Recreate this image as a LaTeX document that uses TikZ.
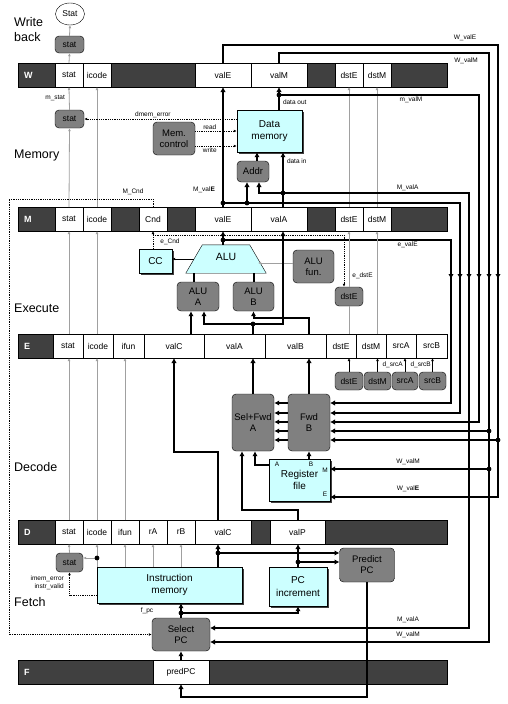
\documentclass[tikz,border=0pt]{standalone}
\usepackage{fontspec}
\setmainfont{Liberation Sans}
\usetikzlibrary{arrows.meta,shapes.geometric,shadows}
\definecolor{regdark}{HTML}{404040}
\definecolor{boxgray}{HTML}{808080}
\definecolor{hwcyan}{HTML}{CCFFFF}
\definecolor{sigray}{HTML}{A0A0A0}
\tikzset{
  reg/.style={draw, fill=regdark, minimum width=429, minimum height=24, inner sep=0pt, outer sep=0pt},
  rname/.style={anchor=west, xshift=6pt, inner sep=0pt, text=white, font=\bfseries\fontsize{9}{10}\selectfont},
  fld/.style={draw, fill=white, minimum height=24, inner sep=0pt, outer sep=0pt, font=\fontsize{8.5}{9}\selectfont},
  gbox/.style={draw, fill=boxgray, rounded corners=4pt, inner sep=0pt, align=center, font=\fontsize{9.5}{11}\selectfont},
  small/.style={font=\fontsize{8.5}{9}\selectfont},
  cbox/.style={draw, fill=hwcyan, inner sep=0pt, align=center, font=\fontsize{10}{12.5}\selectfont,
    general shadow={fill=black!75, shadow xshift=2pt, shadow yshift=-2pt}},
  stage/.style={anchor=west, align=left, inner sep=0pt, font=\fontsize{12.5}{15}\selectfont},
  sig/.style={inner sep=1pt, font=\fontsize{6.5}{8}\selectfont},
  bus/.style={line width=2pt, >={Latex[length=5pt,width=5.4pt]}},
  ctl/.style={draw=sigray, line width=.8pt, >={Latex[length=3pt,width=2.8pt]}},
  ctlk/.style={line width=.6pt, >={Latex[length=3pt,width=2.8pt]}},
  dotln/.style={densely dotted, line width=.8pt, >={Latex[length=3pt,width=2.8pt]}}
}
\begin{document}
\begin{tikzpicture}[x=1pt,y=-1pt]
\path[use as bounding box, fill=white] (0,0) rectangle (507,704);

\node[stage] (sWB) at (14,29.5) {Write\\back};
\node[stage] (sMem) at (14,155) {Memory};
\node[stage] (sEx) at (14,308) {Execute};
\node[stage] (sDec) at (14,467) {Decode};
\node[stage] (sFet) at (14,602) {Fetch};

\foreach \n/\y in {W/75,M/219,E/346,D/532,F/672}
  \node[reg, label={[rname]west:\n}] (\n) at (232.5,\y) {};
\foreach \a/\b/\t in {55/83/stat,83/111/icode,195/251/valE,251/307/valM,335/363/dstE,363/391/dstM}
  \node[fld, minimum width=\b-\a] (W\t) at ({(\a+\b)/2},75) {\t};
\foreach \a/\b/\t in {55/83/stat,83/111/icode,139/167/Cnd,195/251/valE,251/307/valA,335/363/dstE,363/391/dstM}
  \node[fld, minimum width=\b-\a] (M\t) at ({(\a+\b)/2},219) {\t};
\foreach \a/\b/\t in {53/83/stat,83/113/icode,113/144/ifun,144/204/valC,204/265/valA,265/326/valB,326/356/dstE,356/386/dstM,386/416/srcA,416/447/srcB}
  \node[fld, minimum width=\b-\a] (E\t) at ({(\a+\b)/2},346) {\t};
\foreach \a/\b/\t in {55/83/stat,83/111/icode,111/139/ifun,139/167/rA,167/195/rB,195/251/valC,270/325/valP}
  \node[fld, minimum width=\b-\a] (D\t) at ({(\a+\b)/2},532) {\t};
\node[fld, minimum width=56] (FpredPC) at (181,672) {predPC};

\node[draw, ellipse, fill=white, minimum width=29, minimum height=22, inner sep=0pt, small] (Stat) at (70,14) {Stat};
\node[gbox, small, minimum width=29, minimum height=17] (statW) at (69.5,44.5) {stat};
\node[gbox, small, minimum width=29, minimum height=18] (statM) at (69.5,119) {stat};
\node[gbox, minimum width=42, minimum height=33] (MemCtrl) at (174,138.5) {Mem.\\control};
\node[cbox, minimum width=65, minimum height=42] (DMem) at (269.5,131) {Data\\memory};
\node[gbox, minimum width=32, minimum height=21] (Addr) at (253,171.5) {Addr};
\node[cbox, minimum width=33, minimum height=24] (CC) at (155.5,261) {CC};
\node[minimum width=80, minimum height=28, inner sep=0pt] (ALU) at (226,259) {};
\filldraw[fill=hwcyan] ([xshift=16.5pt]ALU.north west) -- ([xshift=-16.5pt]ALU.north east)
  -- (ALU.south east) -- (ALU.south west) -- cycle;
\node[font=\fontsize{10.5}{12}\selectfont, inner sep=0pt] (ALUt) at ([yshift=2pt]ALU.center) {ALU};
\node[gbox, minimum width=42, minimum height=29] (ALUA) at (198,296.5) {ALU\\A};
\node[gbox, minimum width=41, minimum height=29] (ALUB) at (253.5,296.5) {ALU\\B};
\node[gbox, minimum width=41, minimum height=33] (ALUfun) at (313.5,266.5) {ALU\\fun.};
\node[gbox, small, minimum width=28, minimum height=19] (dstX) at (349,296.5) {dstE};
\foreach \n/\a/\b in {dstE/335/363,dstM/364/391,srcA/392/418,srcB/419/446}
  \node[gbox, small, minimum width=\b-\a, minimum height=18] (d\n) at ({(\a+\b)/2},381) {\n};
\node[gbox, minimum width=42, minimum height=57] (SelA) at (253,422.5) {Sel+Fwd\\A};
\node[gbox, minimum width=42, minimum height=57] (FwdB) at (309,422.5) {Fwd\\B};
\node[cbox, minimum width=61, minimum height=42] (RF) at (299.5,480) {Register\\file};
\node[sig] (pA) at (277,464) {A};
\node[sig] (pB) at (311,464) {B};
\node[sig] (pM) at (325,470) {M};
\node[sig] (pE) at (325,494) {E};
\node[gbox, small, minimum width=27, minimum height=19] (statF) at (69.5,562.5) {stat};
\node[cbox, minimum width=145, minimum height=36] (IMem) at (169.5,585) {Instruction\\memory};
\node[cbox, minimum width=58, minimum height=39] (PCinc) at (298,586.5) {PC\\increment};
\node[gbox, minimum width=55, minimum height=34] (PredPC) at (367,565) {Predict\\PC};
\node[gbox, minimum width=58, minimum height=33] (SelPC) at (181,634.5) {Select\\PC};

\coordinate (WEc) at (498,45);
\coordinate (WMc) at (489,53);
\coordinate (mMc) at (479,95);
\coordinate (ad1) at (247,182);
\coordinate (ad2) at (259,182);
\coordinate (MAc) at (469,193);
\coordinate (din) at (283,193);
\coordinate (MEc) at (460,203);
\coordinate (eEc) at (451,240);
\coordinate (mc1) at (9,199);
\coordinate (ec) at (153,235);
\coordinate (aluL) at (194,259);
\coordinate (aluR) at (258,263);
\coordinate (vA) at (253,324);
\coordinate (vB) at (309,318);
\foreach \i/\y in {1/403,2/413,3/422,4/431,5/440} \coordinate (f\i) at (330,\y);
\coordinate (vC) at (218,452);
\coordinate (rfA) at (269,465);
\coordinate (rfM) at (330,469);
\coordinate (rfE) at (330,497);
\coordinate (vP) at (242,510);
\coordinate (pc1) at (339.5,553);
\coordinate (icd) at (97,558);
\coordinate (pc2) at (339.5,562);
\coordinate (im) at (68,595);
\coordinate (fpc) at (181,613);
\coordinate (sA) at (210,628);
\coordinate (sW) at (210,642);
\coordinate (pp) at (181,697);

\draw[ctl,->] (Wstat.north) -- (statW.south);
\draw[ctl,->] (statW.north) -- (Stat.south);
\draw[ctl,->] (statM.north) -- (Wstat.south) node[sig, midway, left=3pt] (lmstat) {m\_stat};
\draw[ctl,->] (Mstat.north) -- (statM.south);
\draw[ctl,->] (Micode.north) -- (Wicode.south);
\draw[ctl,->] (MdstE.north) -- (WdstE.south);
\draw[ctl,->] (MdstM.north) -- (WdstM.south);
\draw[dotln,->] (DMem.west |- statM) -- (statM.east) node[sig, pos=.55, above] (ldmem) {dmem\_error};
\draw[dotln,->] ([yshift=7.5pt]MemCtrl.east) -- ([yshift=7.5pt]MemCtrl.east -| DMem.west) node[sig, pos=.35, above] (lread) {read};
\draw[dotln,->] ([yshift=-7.5pt]MemCtrl.east) -- ([yshift=-7.5pt]MemCtrl.east -| DMem.west) node[sig, pos=.35, below] (lwrite) {write};
\draw[bus,->] ([xshift=4pt]Addr.north) -- ([xshift=4pt]Addr.north |- DMem.south);

\draw[bus,->] (WvalE.north) |- (WEc) |- (rfE);
\node[sig] (lWvalE) at (465,38) {W\_valE};
\draw[bus,->] (WvalM.north) |- (WMc) |- (sW);
\node[sig] (lWvalM) at (466,61) {W\_valM};
\draw[bus,->] (WEc |- f5) -- (f5);
\draw[bus,->] (WMc |- f4) -- (f4);
\draw[bus,->] (WMc |- rfM) -- (rfM);
\node[sig] (lWvalM2) at (408,462) {W\_valM};
\node[sig] (lWvalE2) at (408,489) {W\_val\textbf{E}};
\draw[bus,->] (WvalM |- DMem.north) -- (WvalM.south) node[sig, pos=.35, right=2pt] (ldout) {data out};
\draw[bus,->] (WvalM |- mMc) -| node[sig, pos=.33, below] (lmvalM) {m\_valM} (mMc |- f3) -- (f3);
\draw[bus,->] (din |- M.north) -- (din |- DMem.south) node[sig, pos=.84, right=2pt] (ldin) {data in};
\draw[bus,->] (din) -| (ad2);
\draw[bus,->] (din) -- node[sig, pos=.67, above] (lMvalA) {M\_valA} (MAc) |- (sA);
\draw[bus,->] (MvalE.north) -- (WvalE.south);
\draw[bus,->] (MvalE |- MEc) -- (MEc) |- (f2);
\draw[bus,->] (ad1 |- MEc) -- (ad1);
\node[sig] (lMvalE) at (204,190) {M\_val\textbf{E}};
\draw[bus,->] (MvalE.south |- ALU.north) -- (MvalE.south);
\draw[bus,->] (MvalE |- eEc) -- node[sig, pos=.81, below] (levalE) {e\_valE} (eEc) |- (f1);
\foreach \p in {WvalM |- mMc, din, MvalE |- MEc, ad1 |- MEc, MvalE |- eEc, WEc |- f5, WMc |- f4, WMc |- rfM}
  \fill (\p) circle (2.4pt);
\foreach \x in {451,460,469,479,489,498} \draw[bus,->] (\x,270) -- (\x,279);

\draw[dotln,->] (MCnd.north) |- (mc1) |- (SelPC.west);
\node[sig] (lMCnd) at (133,192) {M\_Cnd};
\draw[dotln,->] (MCnd |- CC.north) -- (MCnd.south);
\draw[dotln,->] (ec) -| ([xshift=-5pt]dstX.north);
\node[sig] (leCnd) at (170,242) {e\_Cnd};
\draw[ctlk,->] (aluL) -- (aluL -| CC.east);
\draw[ctl,->] (ALUfun.west |- aluR) -- (aluR);
\draw[ctl] (MdstE |- E.north) -- (dstX.south);
\draw[ctl,->] (dstX.north) -- (MdstE.south) node[sig, pos=.2, right=2pt] (ledstE) {e\_dstE};
\draw[ctl,->] (MdstM |- E.north) -- (MdstM.south);
\draw[ctl,->] (Mstat |- E.north) -- (Mstat.south);
\draw[ctl,->] (Micode |- E.north) -- (Micode.south);

\draw[bus] (vA |- E.north) -- (vA);
\draw[bus,->] (vA) -| ([xshift=6pt]ALUA.south);
\draw[bus,->] (vA) -| (din |- M.south);
\fill (vA) circle (2.4pt);
\draw[bus,->] (vB |- E.north) -- (vB) -| (ALUB.south);
\draw[bus,->] ([xshift=-7pt]ALUA.south |- E.north) -- ([xshift=-7pt]ALUA.south);
\draw[bus] ([xshift=-4pt]ALUA.north) -- ([xshift=-4pt]ALUA.north |- ALU.south);
\draw[bus] (ALUB.north) -- (ALUB.north |- ALU.south);

\foreach \n in {dstE,dstM,srcA,srcB} \draw[ctlk,->] (d\n.north) -- (d\n.north |- E.south);
\node[sig, anchor=east] (ldsrcA) at (404,365) {d\_srcA};
\node[sig, anchor=east] (ldsrcB) at (432,365) {d\_srcB};
\foreach \n in {stat,icode,ifun} \draw[ctl,->] (D\n.north) -- (D\n.north |- E.south);

\draw[bus,->] (SelA.north) -- (SelA.north |- E.south);
\draw[bus,->] (FwdB.north) -- (FwdB.north |- E.south);
\foreach \i in {1,...,5} \draw[bus,->] (f\i -| FwdB.west) -- (f\i -| SelA.east);
\draw[bus,->] (rfA) -| ([xshift=2pt]SelA.south);
\draw[bus,->] (RF.north -| FwdB) -- (FwdB.south);
\draw[bus,->] (DvalP.north) |- (vP) -- (vP |- SelA.south);
\draw[bus,->] (vC |- D.north) -- (vC) -| (EvalC.south);

\draw[ctl,->] (statF.north) -- (Dstat.south);
\draw[ctl,->] (Dicode |- IMem.north) -- (Dicode.south);
\draw[ctl,->] (icd) -- (statF.east |- icd);
\fill (icd) circle (2.4pt);
\foreach \n in {ifun,rA,rB} \draw[ctl,->] (D\n |- IMem.north) -- (D\n.south);
\draw[dotln,->] (IMem.west |- im) -| (statF.south);
\node[sig, align=right, anchor=east] (limem) at (65,583) {imem\_error\\instr\_valid};
\draw[bus,->] (vC |- IMem.north) -- (vC |- D.south);
\draw[bus,->] (vC |- pc1) -- (pc1);
\draw[bus,->] (PCinc.north) -- (PCinc.north |- D.south);
\draw[bus,->] (PCinc |- pc2) -- (pc2);
\fill (vC |- pc1) circle (2.4pt);
\fill (PCinc |- pc2) circle (2.4pt);
\draw[bus,->] (SelPC.north) -- (SelPC.north |- IMem.south);
\draw[bus,->] (fpc) -| (PCinc.south);
\fill (fpc) circle (2.4pt);
\node[sig] (lfpc) at (147,611) {f\_pc};
\draw[bus,->] (FpredPC.north) -- (SelPC.south);
\draw[bus,->] (PredPC.south) |- (pp) -- (FpredPC.south);
\node[sig] (lMvalA2) at (408,620) {M\_valA};
\node[sig] (lWvalM3) at (408,635) {W\_valM};
\end{tikzpicture}
\end{document}
